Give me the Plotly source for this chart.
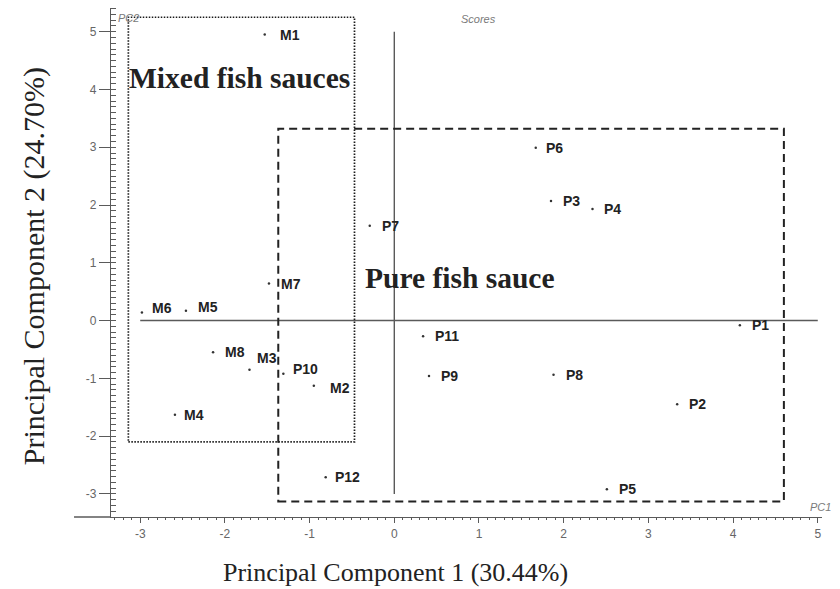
import plotly.graph_objects as go

# ---- data ----
labels = ["M1", "M2", "M3", "M4", "M5", "M6", "M7", "M8",
          "P1", "P2", "P3", "P4", "P5", "P6", "P7", "P8", "P9", "P10", "P11", "P12"]
pc1 = [-1.53, -0.95, -1.71, -2.59, -2.46, -2.98, -1.48, -2.14,
       4.08, 3.34, 1.85, 2.34, 2.51, 1.67, -0.29, 1.88, 0.41, -1.31, 0.34, -0.81]
pc2 = [4.95, -1.13, -0.85, -1.63, 0.17, 0.14, 0.64, -0.55,
       -0.08, -1.45, 2.07, 1.93, -2.92, 2.99, 1.64, -0.94, -0.96, -0.92, -0.27, -2.71]

x_ticks = [-3, -2, -1, 0, 1, 2, 3, 4, 5]
y_ticks = [-3, -2, -1, 0, 1, 2, 3, 4, 5]

mixed_box = {"x0": -3.14, "x1": -0.47, "y0": -2.10, "y1": 5.25}
pure_box = {"x0": -1.37, "x1": 4.60, "y0": -3.13, "y1": 3.32}
origin_span = [-3, 5]

x_title = "Principal Component 1 (30.44%)"
y_title = "Principal Component 2 (24.70%)"
group_labels = ["Mixed fish sauces", "Pure fish sauce"]

# label placement tweaks (pixels)
label_shift = {"M1": (13, 0), "M3": (6, 12), "M5": (10, 4), "M6": (8, 4),
               "M2": (14, -2), "P10": (8, 5), "M4": (7, 0), "P12": (7, 0), "P6": (8, 0)}

SANS = "Liberation Sans, Arial, sans-serif"
SERIF = "Liberation Serif, Times New Roman, serif"
INK = "#222222"
GRAY = "#5a5a5a"

fig = go.Figure()

# origin cross lines
fig.add_trace(go.Scatter(x=origin_span, y=[0, 0], mode="lines",
                         line=dict(color=GRAY, width=1.4), hoverinfo="skip", showlegend=False))
fig.add_trace(go.Scatter(x=[0, 0], y=origin_span, mode="lines",
                         line=dict(color=GRAY, width=1.4), hoverinfo="skip", showlegend=False))

# score points
fig.add_trace(go.Scatter(x=pc1, y=pc2, mode="markers",
                         marker=dict(size=2.5, color="#333333"),
                         text=labels, hoverinfo="text", showlegend=False))

# group boxes
fig.add_shape(type="rect", xref="x", yref="y", **mixed_box,
              line=dict(color="#1a1a1a", width=1.7, dash="1.5px,1.5px"))
fig.add_shape(type="rect", xref="x", yref="y", **pure_box,
              line=dict(color="#222222", width=2, dash="8px,5px"))

# x axis line extension to the left of the y axis
fig.add_shape(type="line", xref="paper", yref="paper", x0=-0.052, x1=0, y0=0, y1=0,
              line=dict(color=GRAY, width=1.4))

annotations = []
for lab, xv, yv in zip(labels, pc1, pc2):
    dx, dy = label_shift.get(lab, (10, 0))
    annotations.append(dict(x=xv, y=yv, xref="x", yref="y", text=lab, showarrow=False,
                            xanchor="left", yanchor="middle", xshift=dx, yshift=dy,
                            font=dict(family=SANS, size=14, color=INK, weight="bold")))

annotations.append(dict(x=-3.16, y=4.19, xref="x", yref="y", text=group_labels[0],
                        showarrow=False, xanchor="left", yanchor="middle",
                        font=dict(family=SERIF, size=29.5, color=INK, weight="bold")))
annotations.append(dict(x=-0.37, y=0.74, xref="x", yref="y", text=group_labels[1],
                        showarrow=False, xanchor="left", yanchor="middle",
                        font=dict(family=SERIF, size=29.5, color=INK, weight="bold")))

annotations.append(dict(x=0.40, y=-0.109, xref="paper", yref="paper", text=x_title,
                        showarrow=False, xanchor="center", yanchor="middle",
                        font=dict(family=SERIF, size=26, color=INK)))
annotations.append(dict(x=-0.108, y=0.493, xref="paper", yref="paper", text=y_title,
                        showarrow=False, xanchor="center", yanchor="middle", textangle=-90,
                        font=dict(family=SERIF, size=30, color=INK)))

small = dict(family=SANS, size=11, color="#7a7a7a", style="italic")
annotations.append(dict(x=0.025, y=0.980, xref="paper", yref="paper", text="PC2",
                        showarrow=False, xanchor="center", yanchor="middle", font=small))
annotations.append(dict(x=0.517, y=0.978, xref="paper", yref="paper", text="Scores",
                        showarrow=False, xanchor="center", yanchor="middle", font=small))
annotations.append(dict(x=0.998, y=0.020, xref="paper", yref="paper", text="PC1",
                        showarrow=False, xanchor="center", yanchor="middle", font=small))

# the page body adds an 8px offset, so the figure is sized/margined to compensate
fig.update_layout(
    width=832, height=581,
    margin=dict(l=103, r=18, t=0, b=72),
    paper_bgcolor="white", plot_bgcolor="white",
    annotations=annotations,
    xaxis=dict(range=[-3.345, 5.05], tickvals=x_ticks, ticktext=[str(v) for v in x_ticks],
               showgrid=False, zeroline=False, showline=True, linecolor=GRAY, linewidth=1.4,
               ticks="outside", ticklen=5, tickcolor=GRAY, tickwidth=1,
               tickfont=dict(family=SANS, size=12, color="#666666"),
               minor=dict(dtick=0.1, tick0=0, ticks="outside", ticklen=2, tickcolor=GRAY,
                          showgrid=False)),
    yaxis=dict(range=[-3.40, 5.41], tickvals=y_ticks, ticktext=[str(v) for v in y_ticks],
               showgrid=False, zeroline=False, showline=True, linecolor=GRAY, linewidth=1.4,
               ticks="outside", ticklen=11, tickcolor=GRAY, tickwidth=1,
               tickfont=dict(family=SANS, size=12, color="#666666"),
               minor=dict(dtick=0.1, tick0=0, ticks="inside", ticklen=5, tickcolor=GRAY,
                          showgrid=False)),
)

fig.write_html("out.html")
